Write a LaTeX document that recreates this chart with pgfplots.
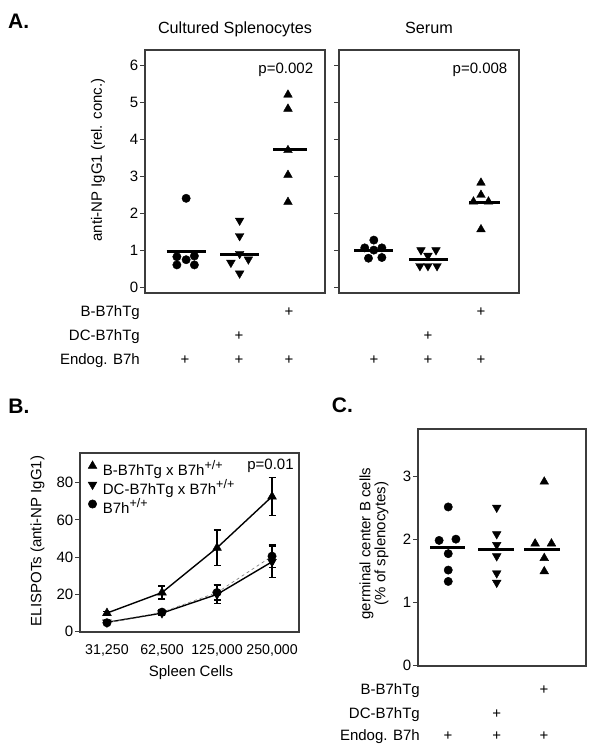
\documentclass[border=0pt]{standalone}
\usepackage{pgfplots}
\pgfplotsset{compat=1.18}
\usepackage{fontspec}
\setmainfont{Liberation Sans}
\newcommand\fs{\fontsize{15}{18}\selectfont}
\newcommand\sups[1]{\raisebox{6pt}{\fontsize{12.5}{12.5}\selectfont #1}}
\definecolor{boxc}{HTML}{3C3C3C}
\pgfplotsset{
  panel/.style={
    scale only axis, clip=false,
    axis line style={line width=2.3pt, draw=boxc},
    tick align=outside, major tick length=5pt,
    ytick pos=left, xtick=\empty,
    ytick style={line width=0.9pt, draw=boxc},
    tick label style={font=\fs, text=black},
    yticklabel style={inner sep=1.5pt},
    /pgf/number format/assume math mode=true,
  },
  circ/.style={only marks, mark=*, mark size=4.2pt, black},
  up/.style={only marks, mark=triangle*, mark size=5pt, black},
  dn/.style={only marks, mark=triangle*, mark size=5pt, black, mark options={rotate=180}},
  med/.style={black, line width=3pt, no marks},
}
\begin{document}
\begin{tikzpicture}[font=\fs]
\path (0pt,0pt) rectangle (600pt,-751pt);

% ---------------- Panel A: Cultured Splenocytes
\begin{axis}[panel, at={(145pt,-293pt)}, anchor=south west, width=180pt, height=243pt,
  xmin=-0.8, xmax=2.7, ymin=-0.16, ymax=6.41, ytick={0,1,2,3,4,5,6}]
\addplot[circ] coordinates {(0,2.4) (-0.18,0.82) (0.16,0.84) (0,0.74) (-0.18,0.6) (0.16,0.6)};
\addplot[dn] coordinates {(1.04,1.8) (1.04,1.38) (1.04,0.9) (0.87,0.66) (1.21,0.75) (1.04,0.37)};
\addplot[up] coordinates {(1.98,5.2) (1.98,4.82) (1.98,3.7) (1.98,3.03) (1.98,2.3)};
\addplot[med] coordinates {(-0.38,0.96) (0.39,0.96)};
\addplot[med] coordinates {(0.66,0.89) (1.42,0.89)};
\addplot[med] coordinates {(1.69,3.72) (2.35,3.72)};
\end{axis}

% ---------------- Panel A: Serum
\begin{axis}[panel, at={(339pt,-293pt)}, anchor=south west, width=180pt, height=243pt,
  xmin=-0.65, xmax=2.71, ymin=-0.16, ymax=6.41, ytick={0,1,2,3,4,5,6}, yticklabels={}]
\addplot[circ] coordinates {(0,1.27) (-0.17,1.06) (0.15,1.06) (0,1.0) (-0.1,0.78) (0.15,0.8)};
\addplot[dn] coordinates {(0.88,1.0) (1.16,1.0) (1.01,0.85) (0.86,0.57) (1.01,0.57) (1.18,0.57)};
\addplot[up] coordinates {(2,2.82) (2,2.49) (1.86,2.31) (2.14,2.31) (2,1.56)};
\addplot[med] coordinates {(-0.37,1.0) (0.36,1.0)};
\addplot[med] coordinates {(0.66,0.75) (1.39,0.75)};
\addplot[med] coordinates {(1.78,2.29) (2.36,2.29)};
\end{axis}

% ---------------- Panel B
\begin{axis}[panel, at={(80pt,-631.7pt)}, anchor=south west, width=219pt, height=179pt,
  xmin=-0.49, xmax=3.49, ymin=0, ymax=96, ytick={0,20,40,60,80},
  xtick={0,1,2,3}, xticklabels={{31,250},{62,500},{125,000},{250,000}},
  xtick style={draw=none}, xticklabel style={inner sep=0pt, anchor=north, yshift=-8pt, font=\fontsize{14.2}{17}\selectfont},
  legend image code/.code={\draw[#1, only marks] plot coordinates {(0pt,5pt)};},
  legend cell align=left,
  legend style={draw=none, fill=none, at={(axis description cs:0,1)}, anchor=north west,
    xshift=8pt, yshift=-8pt, inner sep=0pt, row sep=1.7pt, column sep=5pt,
    nodes={inner sep=1pt, text height=12pt, text depth=3pt, font=\fs}},
  error bars/error bar style={line width=1.2pt, black, solid},
  error bars/error mark options={rotate=90, mark size=3.5pt, line width=1.2pt, black, solid},
]
\addplot[black, line width=1.4pt, mark=triangle*, mark size=5pt, mark options={solid, line width=0.5pt},
  error bars/.cd, y dir=both, y explicit]
  coordinates {(0,10) +- (0,1) (1,21) +- (0,3.5) (2,45) +- (0,9.5) (3,72.5) +- (0,10)};
\addplot[black, line width=1.4pt, mark=triangle*, mark size=5pt, mark options={solid, line width=0.5pt, rotate=180},
  error bars/.cd, y dir=both, y explicit]
  coordinates {(0,5) +- (0,0.5) (1,10) +- (0,1) (2,20) +- (0,5) (3,37.5) +- (0,8.5)};
\addplot[gray, dashed, line width=0.7pt, mark=*, mark size=4.2pt, mark options={solid, black, fill=black, line width=0.5pt},
  error bars/.cd, y dir=both, y explicit]
  coordinates {(0,4.8) +- (0,0.5) (1,10.5) +- (0,1.5) (2,21) +- (0,4) (3,40.5) +- (0,6)};
\legend{B-B7hTg x B7h\sups{+/+}, DC-B7hTg x B7h\sups{+/+}, B7h\sups{+/+}}
\end{axis}

% ---------------- Panel C
\begin{axis}[panel, at={(418pt,-666pt)}, anchor=south west, width=168pt, height=237pt,
  xmin=-0.63, xmax=2.87, ymin=-0.01, ymax=3.745, ytick={0,1,2,3}]
\addplot[circ] coordinates {(0,2.51) (-0.19,1.98) (0.16,2.0) (0,1.77) (0,1.51) (0,1.33)};
\addplot[dn] coordinates {(1.01,2.5) (1.01,2.08) (1.01,1.91) (1.01,1.73) (1.01,1.46) (1.01,1.31)};
\addplot[up] coordinates {(2,2.91) (1.81,1.93) (2.15,1.93) (2,1.7) (2,1.49)};
\addplot[med] coordinates {(-0.38,1.87) (0.35,1.87)};
\addplot[med] coordinates {(0.63,1.84) (1.36,1.84)};
\addplot[med] coordinates {(1.58,1.84) (2.33,1.84)};
\end{axis}

% ---------------- texts
\begin{scope}[every node/.style={inner sep=0pt, text=black}]
\node[anchor=base west, font=\bfseries\fontsize{21}{21}\selectfont] at (8pt,-28.3pt) {A.};
\node[anchor=base west, font=\bfseries\fontsize{21}{21}\selectfont] at (8.3pt,-413.3pt) {B.};
\node[anchor=base west, font=\bfseries\fontsize{21}{21}\selectfont] at (331.7pt,-412.7pt) {C.};

\node[anchor=base, font=\fontsize{16.2}{19}\selectfont] at (235pt,-33.3pt) {Cultured Splenocytes};
\node[anchor=base, font=\fontsize{16.2}{19}\selectfont] at (429pt,-33.3pt) {Serum};
\node[anchor=base] at (285.8pt,-74pt) {p=0.002};
\node[anchor=base] at (480pt,-73.3pt) {p=0.008};
\node[rotate=90] at (98pt,-160pt) {anti-NP IgG1 (rel. conc.)};

\node[anchor=base east] at (140pt,-316.7pt) {B-B7hTg};
\node[anchor=base east] at (140pt,-340.7pt) {DC-B7hTg};
\node[anchor=base east] at (140pt,-364pt) {Endog. B7h};
\node[anchor=base] at (289pt,-316.7pt) {+};
\node[anchor=base] at (239pt,-340.7pt) {+};
\node[anchor=base] at (185pt,-364pt) {+};
\node[anchor=base] at (239pt,-364pt) {+};
\node[anchor=base] at (289pt,-364pt) {+};
\node[anchor=base] at (481pt,-316.7pt) {+};
\node[anchor=base] at (428pt,-340.7pt) {+};
\node[anchor=base] at (374pt,-364pt) {+};
\node[anchor=base] at (428pt,-364pt) {+};
\node[anchor=base] at (481pt,-364pt) {+};

\node[anchor=base] at (270.5pt,-469.3pt) {p=0.01};
\node[rotate=90] at (37.5pt,-541pt) {ELISPOTs (anti-NP IgG1)};
\node[anchor=base] at (191pt,-676pt) {Spleen Cells};

\node[rotate=90, align=center, font=\fontsize{15}{15}\selectfont] at (374pt,-543.5pt) {germinal center B cells\\(\% of splenocytes)};
\node[anchor=base east] at (420pt,-694pt) {B-B7hTg};
\node[anchor=base east] at (420pt,-718.3pt) {DC-B7hTg};
\node[anchor=base east] at (420pt,-740pt) {Endog. B7h};
\node[anchor=base] at (544pt,-694pt) {+};
\node[anchor=base] at (496.7pt,-718.3pt) {+};
\node[anchor=base] at (448pt,-740pt) {+};
\node[anchor=base] at (496.7pt,-740pt) {+};
\node[anchor=base] at (544pt,-740pt) {+};
\end{scope}
\end{tikzpicture}
\end{document}
